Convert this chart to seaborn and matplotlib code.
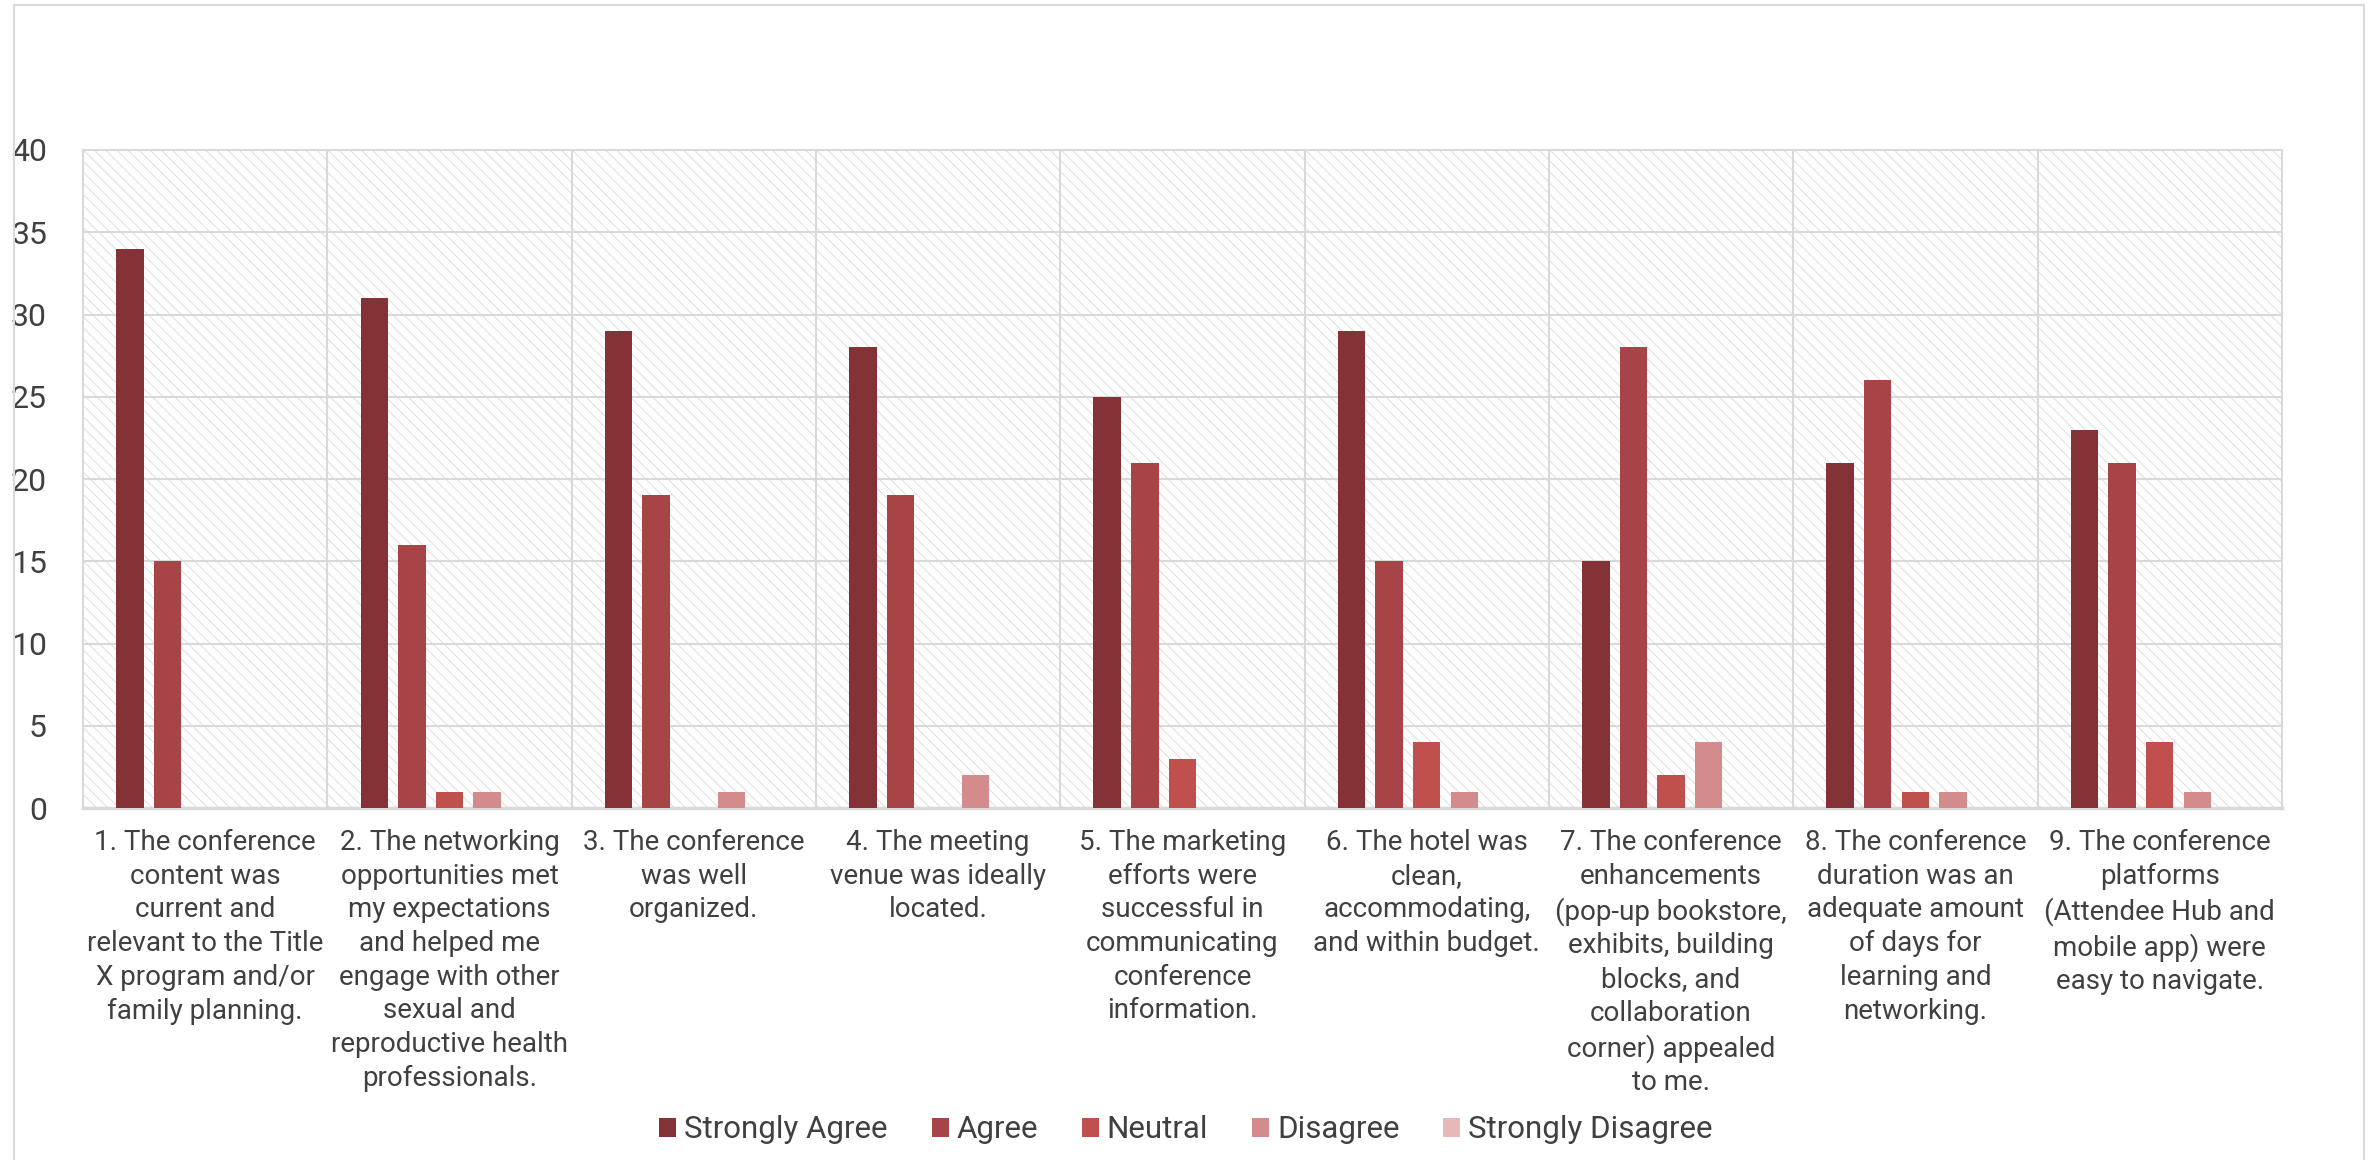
import matplotlib
matplotlib.use("Agg")
import matplotlib.pyplot as plt
from matplotlib.patches import Rectangle, Patch
import seaborn as sns
import pandas as pd

# Survey questions (wrapped as displayed under each group)
questions = [
    "1. The conference\ncontent was\ncurrent and\nrelevant to the Title\nX program and/or\nfamily planning.",
    "2. The networking\nopportunities met\nmy expectations\nand helped me\nengage with other\nsexual and\nreproductive health\nprofessionals.",
    "3. The conference\nwas well\norganized.",
    "4. The meeting\nvenue was ideally\nlocated.",
    "5. The marketing\nefforts were\nsuccessful in\ncommunicating\nconference\ninformation.",
    "6. The hotel was\nclean,\naccommodating,\nand within budget.",
    "7. The conference\nenhancements\n(pop-up bookstore,\nexhibits, building\nblocks, and\ncollaboration\ncorner) appealed\nto me.",
    "8. The conference\nduration was an\nadequate amount\nof days for\nlearning and\nnetworking.",
    "9. The conference\nplatforms\n(Attendee Hub and\nmobile app) were\neasy to navigate.",
]

responses = ["Strongly Agree", "Agree", "Neutral", "Disagree", "Strongly Disagree"]

strongly_agree = [34, 31, 29, 28, 25, 29, 15, 21, 23]
agree = [15, 16, 19, 19, 21, 15, 28, 26, 21]
neutral = [0, 1, 0, 0, 3, 4, 2, 1, 4]
disagree = [0, 1, 1, 2, 0, 1, 4, 1, 1]
strongly_disagree = [0, 0, 0, 0, 0, 0, 0, 0, 0]

colors = ["#843236", "#A64447", "#C0504D", "#D38B8B", "#E6B9B8"]

series = [strongly_agree, agree, neutral, disagree, strongly_disagree]
rows = []
for resp, vals in zip(responses, series):
    for q_idx, v in enumerate(vals):
        rows.append({"question": q_idx, "response": resp, "count": v})
df = pd.DataFrame(rows)

sns.set_style("white")
plt.rcParams["font.family"] = ["Roboto", "DejaVu Sans"]
plt.rcParams["hatch.linewidth"] = 0.7

fig = plt.figure(figsize=(23.72, 11.6), dpi=100)
ax = fig.add_axes([0.035, 0.3034, 0.927, 0.5673])

grid_c = "#d9d9d9"

# hatched plot area
ax.add_patch(Rectangle((0, 0), 1, 1, transform=ax.transAxes, facecolor="white",
                       edgecolor="#dedede", hatch="\\\\\\", linewidth=0, zorder=0))

sns.barplot(data=df, x="question", y="count", hue="response", hue_order=responses,
            palette=colors, width=0.77, gap=0.27, linewidth=0, saturation=1,
            ax=ax, legend=False, zorder=3)

ax.set_xlim(-0.5, len(questions) - 0.5)
ax.set_ylim(0, 40)
ax.set_yticks(range(0, 41, 5))
ax.set_xticks(range(len(questions)))
ax.set_xticklabels(questions, fontsize=20, color="#404040", linespacing=1.32,
                   va="top", ha="center")
ax.tick_params(axis="x", length=0, pad=15)
ax.tick_params(axis="y", length=0, pad=26, labelsize=23, labelcolor="#404040")
ax.set_xlabel("")
ax.set_ylabel("")

# horizontal grid lines and category separators
for y in range(5, 40, 5):
    ax.axhline(y, color=grid_c, linewidth=1.5, zorder=1)
for x in range(len(questions) - 1):
    ax.axvline(x + 0.5, color=grid_c, linewidth=1.5, zorder=1)

for side in ["left", "right", "top", "bottom"]:
    ax.spines[side].set_visible(True)
    ax.spines[side].set_color(grid_c)
    ax.spines[side].set_linewidth(1.5)
ax.spines["bottom"].set_linewidth(2.5)

handles = [Patch(facecolor=c, edgecolor="none", label=r) for c, r in zip(colors, responses)]
fig.legend(handles=handles, loc="center", bbox_to_anchor=(0.5, 0.026), ncol=5,
           frameon=False, fontsize=22.5, handlelength=0.55, handleheight=0.55,
           handletextpad=0.25, columnspacing=1.4, labelcolor="#404040")

# outer chart border
fig.add_artist(Rectangle((14 / 2372, -0.01), (2364 - 14) / 2372, 1.0057, transform=fig.transFigure,
                         facecolor="none", edgecolor=grid_c, linewidth=1.5))

fig.savefig("out.png", dpi=100, facecolor="white")
